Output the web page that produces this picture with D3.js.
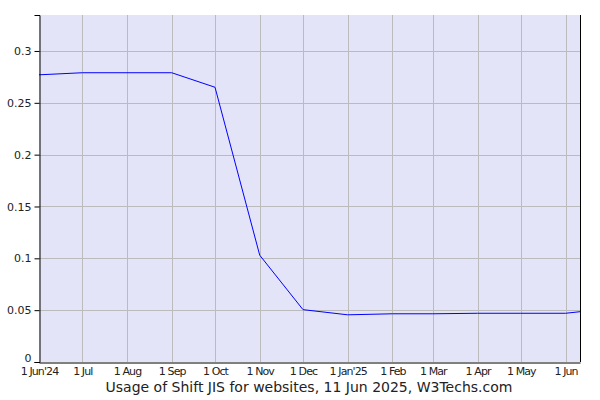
<!DOCTYPE html>
<html><head><meta charset="utf-8">
<script src="https://cdn.jsdelivr.net/npm/d3@7"></script>
<style>body{margin:0;background:#fff}svg{display:block}</style>
</head><body>
<svg id="c" width="600" height="400"></svg>
<script>
const dates = ["2024-06-01","2024-07-01","2024-08-01","2024-09-01","2024-10-01","2024-11-01","2024-12-01","2025-01-01","2025-02-01","2025-03-01","2025-04-01","2025-05-01","2025-06-01","2025-06-11"];
const values = [0.277,0.279,0.279,0.279,0.265,0.103,0.0505,0.0455,0.0465,0.0465,0.047,0.047,0.047,0.0485];
const tickDates = ["2024-06-01","2024-07-01","2024-08-01","2024-09-01","2024-10-01","2024-11-01","2024-12-01","2025-01-01","2025-02-01","2025-03-01","2025-04-01","2025-05-01","2025-06-01"];
const tickLabels = ["1 Jun'24","1 Jul","1 Aug","1 Sep","1 Oct","1 Nov","1 Dec","1 Jan'25","1 Feb","1 Mar","1 Apr","1 May","1 Jun"];
const yTicks = [0,0.05,0.1,0.15,0.2,0.25,0.3];
const yTickLabels = ["0","0.05","0.1","0.15","0.2","0.25","0.3"];
const title = "Usage of Shift JIS for websites, 11 Jun 2025, W3Techs.com";

const parse = d3.utcParse("%Y-%m-%d");
const L=39,R=580,T=15,B=362;
const x = d3.scaleUtc().domain([parse(dates[0]), parse(dates[dates.length-1])]).range([L,R]);
const y = d3.scaleLinear().domain([0,0.3347]).range([B,T]);
const svg = d3.select("#c");

svg.append("rect").attr("x",L).attr("y",T).attr("width",R-L).attr("height",B-T).attr("fill","#e4e4f8");

// horizontal grid
svg.append("g").selectAll("line").data(yTicks.slice(1)).join("line")
  .attr("x1",L).attr("x2",R).attr("y1",d=>Math.round(y(d))+0.5).attr("y2",d=>Math.round(y(d))+0.5)
  .attr("stroke","#bbbbbb").attr("stroke-width",1);
// vertical grid
svg.append("g").selectAll("line").data(tickDates.slice(1)).join("line")
  .attr("x1",d=>Math.round(x(parse(d)))+0.5).attr("x2",d=>Math.round(x(parse(d)))+0.5)
  .attr("y1",T).attr("y2",B)
  .attr("stroke","#bbbbbb").attr("stroke-width",1);

// line
const line = d3.line().x((d,i)=>x(parse(dates[i]))).y(d=>y(d));
svg.append("path").datum(values).attr("d",line).attr("fill","none").attr("stroke","#0000ff").attr("stroke-width",1);

// y axis
const yAxis = d3.axisLeft(y).tickValues(yTicks).tickFormat((d,i)=>yTickLabels[i]).tickSize(5).tickPadding(3);
const gy = svg.append("g").attr("transform",`translate(${L+0.5},0)`).call(yAxis);
gy.select(".domain").attr("stroke","#000");
gy.selectAll(".tick line").attr("stroke","#000");
gy.selectAll("text").attr("font-family","DejaVu Sans").attr("font-size","11px").attr("fill","#222")
  .attr("dy",(d)=> d===0 ? "-0.05em" : "0.32em");

// x axis
const xAxis = d3.axisBottom(x).tickValues(tickDates.map(parse)).tickFormat((d,i)=>tickLabels[i]).tickSize(0).tickPadding(5);
const gx = svg.append("g").attr("transform",`translate(0,${B+0.5})`).call(xAxis);
gx.select(".domain").attr("stroke","#000");
gx.selectAll("text").attr("font-family","DejaVu Sans").attr("font-size","11px").attr("letter-spacing","-0.9px").attr("fill","#222");

// right border
svg.append("line").attr("x1",R+0.5).attr("x2",R+0.5).attr("y1",T).attr("y2",B).attr("stroke","#000");

svg.append("text").attr("x",309).attr("y",392).attr("text-anchor","middle")
  .attr("font-family","DejaVu Sans").attr("font-size","14px").attr("fill","#222").text(title);
</script>
</body></html>
